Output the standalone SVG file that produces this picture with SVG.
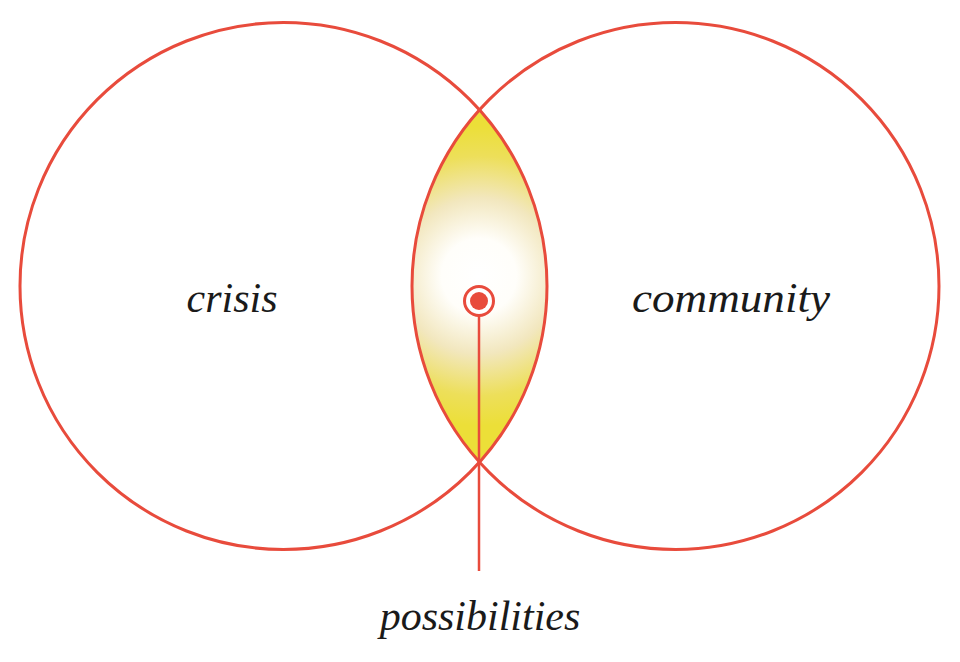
<svg xmlns="http://www.w3.org/2000/svg" width="960" height="662" viewBox="0 0 960 662">
  <style>
    .ring { fill: none; stroke: #E84B3C; stroke-width: 3; }
    .lbl { font-style: italic; font-size: 42px; fill: #1a1a1a; text-anchor: middle; }
    .conn { stroke: #E84B3C; stroke-width: 2.5; fill: none; }
  </style>
  <defs>
    <radialGradient id="glow" gradientUnits="userSpaceOnUse" cx="479" cy="276" r="150">
      <stop offset="0" stop-color="#FFFFFF"/>
      <stop offset="0.25" stop-color="#FFFEFA"/>
      <stop offset="0.52" stop-color="#F2E7BE"/>
      <stop offset="0.8" stop-color="#EDDF5A"/>
      <stop offset="1" stop-color="#ECDF38"/>
    </radialGradient>
  </defs>
  <rect width="960" height="662" fill="#FFFFFF"/>
  <g id="intersection">
    <path d="M479.5 110 A263.5 263.5 0 0 0 479.5 462 A263.5 263.5 0 0 0 479.5 110 Z" fill="url(#glow)"/>
  </g>
  <g id="crisis">
    <circle class="ring" cx="283.5" cy="286" r="263.5"/>
    <text class="lbl" font-family="Liberation Serif, Times New Roman, serif" x="232" y="312">crisis</text>
  </g>
  <g id="community">
    <circle class="ring" cx="675.5" cy="286" r="263.5"/>
    <text class="lbl" font-family="Liberation Serif, Times New Roman, serif" x="731" y="312" textLength="198" lengthAdjust="spacingAndGlyphs">community</text>
  </g>
  <g id="connectors">
    <line class="conn" x1="479" y1="316" x2="479" y2="571"/>
  </g>
  <g id="marker">
    <circle cx="479" cy="301" r="14.5" fill="#FFFFFF" stroke="#E84B3C" stroke-width="3"/>
    <circle cx="479" cy="301" r="9" fill="#E84B3C"/>
  </g>
  <g id="possibilities">
    <text class="lbl" font-family="Liberation Serif, Times New Roman, serif" x="480" y="630">possibilities</text>
  </g>
</svg>
